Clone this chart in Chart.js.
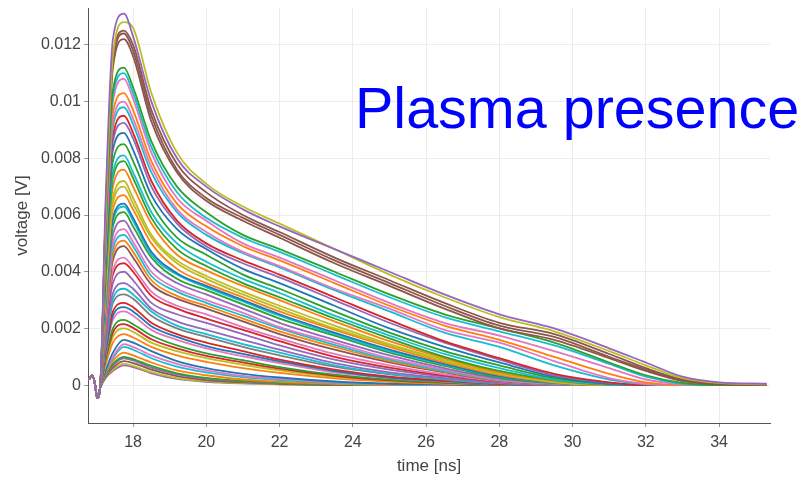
<!DOCTYPE html>
<html>
<head>
<meta charset="utf-8">
<title>Plasma presence</title>
<script src="https://cdn.jsdelivr.net/npm/chart.js@4.4.1/dist/chart.umd.min.js"></script>
<style>
  html, body { margin: 0; padding: 0; background: #fff; }
  #wrap { width: 807px; height: 479px; }
</style>
</head>
<body>
<div id="wrap"><canvas id="pulseChart" width="807" height="479"></canvas></div>
<script>
// sample times [ns]
const preTimes = [16.8, 16.88, 16.96, 17.02, 17.1];
const pulseTimes = [17.25, 17.45, 17.75, 18.0, 18.5, 19.2, 20, 21, 22, 23.5, 25, 26.5, 28, 29.5, 31, 32, 33, 34, 35.3];

// wiggle before the trigger, same for every shot (mV)
const preTrigger = [0.2, 0.35, 0.05, -0.45, -0.1];

// one row per shot, values in mV at pulseTimes
const pulseValues = [
  [6.5, 12.2, 13.1, 12.3, 10.0, 8.0, 7.0, 6.2, 5.6, 4.8, 4.0, 3.2, 2.5, 2.0, 1.3, 0.8, 0.3, 0.1, 0.05],
  [5.8, 11.6, 12.8, 12.6, 10.3, 8.2, 7.1, 6.3, 5.7, 4.8, 3.9, 3.1, 2.4, 1.9, 1.2, 0.7, 0.25, 0.08, 0.03],
  [6.0, 11.6, 12.5, 12.0, 9.7, 7.8, 6.8, 6.0, 5.4, 4.5, 3.7, 2.9, 2.2, 1.8, 1.1, 0.6, 0.2, 0.05, 0.02],
  [5.9, 11.4, 12.4, 11.8, 9.5, 7.6, 6.6, 5.9, 5.3, 4.4, 3.6, 2.8, 2.1, 1.7, 1.0, 0.55, 0.15, 0.05, 0],
  [5.8, 11.2, 12.2, 11.6, 9.3, 7.5, 6.5, 5.8, 5.2, 4.3, 3.5, 2.7, 2.0, 1.6, 0.95, 0.5, 0.15, 0.03, 0],
  [5.3, 10.4, 11.2, 10.5, 8.6, 7.0, 6.1, 5.3, 4.8, 4.0, 3.2, 2.5, 2.0, 1.5, 0.8, 0.35, 0.08, 0, 0.02],
  [5.2, 10.2, 11.0, 10.3, 8.4, 6.8, 5.9, 5.2, 4.7, 3.9, 3.1, 2.4, 1.9, 1.4, 0.75, 0.3, 0.05, 0, 0],
  [5.1, 10.0, 10.8, 10.1, 8.2, 6.6, 5.8, 5.0, 4.5, 3.7, 2.9, 2.2, 1.75, 1.2, 0.6, 0.2, 0.03, 0, 0],
  [4.9, 9.6, 10.3, 9.7, 7.9, 6.4, 5.6, 4.9, 4.4, 3.6, 2.8, 2.1, 1.6, 1.0, 0.4, 0.1, 0, 0, 0],
  [4.8, 9.3, 10.0, 9.4, 7.7, 6.2, 5.4, 4.7, 4.2, 3.4, 2.7, 1.95, 1.5, 0.85, 0.25, 0.05, 0, 0, 0],
  [4.7, 9.1, 9.8, 9.2, 7.5, 6.1, 5.3, 4.65, 4.15, 3.35, 2.6, 1.85, 1.35, 0.7, 0.2, 0.03, 0, 0, 0],
  [4.5, 8.8, 9.5, 8.9, 7.2, 5.8, 5.0, 4.4, 3.9, 3.1, 2.3, 1.55, 0.95, 0.4, 0.1, 0, 0, 0, 0],
  [4.4, 8.6, 9.25, 8.7, 7.0, 5.7, 4.9, 4.3, 3.8, 3.0, 2.2, 1.5, 0.9, 0.35, 0.08, 0, 0, 0, 0],
  [4.2, 8.3, 8.9, 8.3, 6.7, 5.5, 4.8, 4.1, 3.6, 2.8, 2.0, 1.35, 0.8, 0.3, 0.05, 0, 0, 0, 0],
  [4.0, 7.9, 8.5, 7.9, 6.4, 5.2, 4.6, 3.9, 3.4, 2.6, 1.85, 1.2, 0.7, 0.25, 0.05, 0, 0, 0, 0],
  [3.8, 7.5, 8.1, 7.5, 6.1, 5.0, 4.35, 3.75, 3.25, 2.45, 1.75, 1.1, 0.6, 0.2, 0.03, 0, 0, 0, 0],
  [3.7, 7.3, 7.9, 7.3, 5.9, 4.8, 4.2, 3.6, 3.1, 2.35, 1.65, 1.0, 0.5, 0.18, 0.02, 0, 0, 0, 0],
  [3.6, 7.0, 7.6, 7.0, 5.7, 4.6, 4.05, 3.5, 3.0, 2.25, 1.55, 0.95, 0.45, 0.15, 0, 0, 0, 0, 0],
  [3.4, 6.6, 7.2, 6.6, 5.3, 4.4, 3.85, 3.3, 2.8, 2.1, 1.45, 0.9, 0.42, 0.12, 0, 0, 0, 0, 0],
  [3.3, 6.4, 7.0, 6.4, 5.2, 4.3, 3.75, 3.2, 2.7, 2.0, 1.4, 0.85, 0.4, 0.1, 0, 0, 0, 0, 0],
  [3.1, 6.2, 6.7, 6.2, 5.0, 4.1, 3.6, 3.1, 2.6, 1.95, 1.35, 0.8, 0.36, 0.12, 0.02, 0, 0, 0, 0],
  [3.0, 5.9, 6.4, 5.9, 4.7, 3.95, 3.5, 3.0, 2.5, 1.85, 1.25, 0.75, 0.32, 0.1, 0, 0, 0, 0, 0],
  [2.9, 5.8, 6.3, 5.8, 4.6, 3.9, 3.45, 2.95, 2.45, 1.8, 1.2, 0.72, 0.3, 0.1, 0, 0, 0, 0, 0],
  [2.85, 5.6, 6.1, 5.6, 4.5, 3.75, 3.35, 2.85, 2.35, 1.75, 1.15, 0.68, 0.27, 0.08, 0, 0, 0, 0, 0],
  [2.7, 5.3, 5.8, 5.3, 4.25, 3.6, 3.2, 2.7, 2.2, 1.6, 1.05, 0.6, 0.24, 0.07, 0, 0, 0, 0, 0],
  [2.5, 5.0, 5.5, 5.05, 4.0, 3.4, 3.0, 2.55, 2.05, 1.5, 0.95, 0.55, 0.2, 0.06, 0, 0, 0, 0, 0],
  [2.4, 4.8, 5.3, 4.9, 3.85, 3.3, 2.9, 2.45, 2.0, 1.42, 0.9, 0.5, 0.18, 0.05, 0, 0, 0, 0, 0],
  [2.3, 4.6, 5.1, 4.7, 3.7, 3.15, 2.8, 2.35, 1.9, 1.35, 0.85, 0.48, 0.17, 0.05, 0, 0, 0, 0, 0],
  [2.2, 4.4, 4.9, 4.5, 3.55, 3.05, 2.7, 2.25, 1.8, 1.25, 0.8, 0.45, 0.15, 0.04, 0, 0, 0, 0, 0],
  [2.0, 4.05, 4.5, 4.15, 3.3, 2.8, 2.5, 2.05, 1.65, 1.1, 0.7, 0.38, 0.13, 0.03, 0, 0, 0, 0, 0],
  [1.9, 3.9, 4.3, 4.0, 3.15, 2.7, 2.35, 1.95, 1.55, 1.0, 0.62, 0.34, 0.12, 0.03, 0, 0, 0, 0, 0],
  [1.8, 3.6, 4.0, 3.7, 2.9, 2.5, 2.2, 1.8, 1.4, 0.9, 0.55, 0.3, 0.1, 0.03, 0, 0, 0, 0, 0],
  [1.55, 3.25, 3.6, 3.4, 2.7, 2.25, 1.95, 1.6, 1.25, 0.78, 0.45, 0.25, 0.08, 0.02, 0, 0, 0, 0, 0],
  [1.4, 3.05, 3.4, 3.2, 2.6, 2.1, 1.8, 1.45, 1.15, 0.7, 0.4, 0.22, 0.07, 0.02, 0, 0, 0, 0, 0],
  [1.4, 2.9, 3.2, 3.05, 2.45, 2.0, 1.7, 1.35, 1.05, 0.65, 0.38, 0.2, 0.06, 0, 0, 0, 0, 0, 0],
  [1.25, 2.6, 2.9, 2.75, 2.2, 1.8, 1.5, 1.2, 0.9, 0.55, 0.3, 0.16, 0.05, 0, 0, 0, 0, 0, 0],
  [1.15, 2.45, 2.75, 2.6, 2.08, 1.7, 1.38, 1.1, 0.84, 0.5, 0.27, 0.14, 0.04, 0, 0, 0, 0, 0, 0],
  [1.1, 2.3, 2.6, 2.45, 1.95, 1.6, 1.3, 1.02, 0.78, 0.45, 0.25, 0.13, 0.04, 0, 0, 0, 0, 0, 0],
  [0.95, 2.0, 2.3, 2.15, 1.75, 1.4, 1.12, 0.88, 0.64, 0.37, 0.2, 0.1, 0.03, 0, 0, 0, 0, 0, 0],
  [0.88, 1.85, 2.15, 2.02, 1.62, 1.3, 1.03, 0.8, 0.58, 0.33, 0.17, 0.08, 0.02, 0, 0, 0, 0, 0, 0],
  [0.8, 1.7, 2.0, 1.88, 1.5, 1.2, 0.95, 0.72, 0.52, 0.29, 0.15, 0.07, 0.02, 0, 0, 0, 0, 0, 0],
  [0.7, 1.5, 1.8, 1.68, 1.35, 1.05, 0.82, 0.6, 0.43, 0.24, 0.12, 0.05, 0.02, 0, 0, 0, 0, 0, 0],
  [0.5, 1.15, 1.6, 1.5, 1.2, 0.85, 0.6, 0.4, 0.27, 0.13, 0.05, 0.02, 0, 0, 0, 0, 0, 0, 0],
  [0.45, 1.0, 1.45, 1.35, 1.05, 0.75, 0.52, 0.33, 0.22, 0.1, 0.04, 0, 0, 0, 0, 0, 0, 0, 0],
  [0.45, 0.95, 1.35, 1.25, 0.95, 0.65, 0.45, 0.28, 0.18, 0.08, 0.03, 0, 0, 0, 0, 0, 0, 0, 0],
  [0.4, 0.85, 1.15, 1.05, 0.8, 0.52, 0.35, 0.2, 0.12, 0.05, 0, 0, 0, 0, 0, 0, 0, 0, 0],
  [0.35, 0.75, 1.0, 0.92, 0.68, 0.42, 0.26, 0.15, 0.08, 0.03, 0, 0, 0, 0, 0, 0, 0, 0, 0],
  [0.33, 0.7, 0.95, 0.87, 0.62, 0.38, 0.23, 0.13, 0.07, 0.02, 0, 0, 0, 0, 0, 0, 0, 0, 0],
  [0.3, 0.62, 0.85, 0.78, 0.55, 0.32, 0.18, 0.1, 0.05, 0, 0, 0, 0, 0, 0, 0, 0, 0, 0],
  [0.27, 0.55, 0.75, 0.68, 0.46, 0.25, 0.14, 0.07, 0.03, 0, 0, 0, 0, 0, 0, 0, 0, 0, 0],
  [0.25, 0.5, 0.7, 0.64, 0.42, 0.22, 0.12, 0.06, 0.03, 0, 0, 0, 0, 0, 0, 0, 0, 0, 0]
];

const xTicks = [18, 20, 22, 24, 26, 28, 30, 32, 34];
const yTicks = [0, 0.002, 0.004, 0.006, 0.008, 0.01, 0.012];

// plotly-like colours, one per row above
const lineColors = [
  "#9467bd", "#bcbd22", "#8c564b", "#8c564b", "#8c564b", "#2ca02c", "#17becf", "#e377c2", "#ff7f0e", "#e377c2",
  "#17becf", "#d62728", "#9467bd", "#1f77b4", "#2ca02c", "#17becf", "#2ca02c", "#ff7f0e", "#bcbd22", "#bcbd22",
  "#ff7f0e", "#1f77b4", "#17becf", "#2ca02c", "#9467bd", "#e377c2", "#17becf", "#ff7f0e", "#8c564b", "#e377c2",
  "#d62728", "#9467bd", "#9467bd", "#17becf", "#7f7f7f", "#d62728", "#1f77b4", "#e377c2", "#2ca02c", "#d62728",
  "#bcbd22", "#ff7f0e", "#1f77b4", "#e377c2", "#17becf", "#ff7f0e", "#2ca02c", "#9467bd", "#8c564b", "#bcbd22",
  "#9467bd"
];

const FONT = '"Liberation Sans", Arial, sans-serif';

const datasets = pulseValues.map((row, k) => {
  const pts = preTimes.map((t, i) => ({ x: t, y: preTrigger[i] / 1000 }));
  pulseTimes.forEach((t, i) => pts.push({ x: t, y: row[i] / 1000 }));
  return {
    label: "shot " + (k + 1),
    data: pts,
    borderColor: lineColors[k],
    borderWidth: 1.8,
    pointRadius: 0,
    fill: false,
    cubicInterpolationMode: "monotone"
  };
});

// big blue overlay text
const overlayText = {
  id: "overlayText",
  afterDraw(chart) {
    const ctx = chart.ctx;
    ctx.save();
    ctx.font = "57.5px " + FONT;
    ctx.fillStyle = "#0000ff";
    ctx.textBaseline = "alphabetic";
    ctx.fillText("Plasma presence", 355, 128);
    ctx.restore();
  }
};

new Chart(document.getElementById("pulseChart"), {
  type: "line",
  data: { datasets },
  options: {
    responsive: false,
    animation: false,
    layout: { padding: { left: 0, right: 37, top: 8, bottom: 0 } },
    plugins: {
      legend: { display: false },
      tooltip: { enabled: false }
    },
    scales: {
      x: {
        type: "linear",
        min: 16.77,
        max: 35.39,
        afterBuildTicks: s => { s.ticks = xTicks.map(v => ({ value: v })); },
        afterFit: s => { s.height = 56; s.paddingLeft = 0; s.paddingRight = 0; },
        ticks: { color: "#444", font: { family: FONT, size: 16 }, padding: 6, maxRotation: 0 },
        grid: { color: "#ececec", tickColor: "#999", tickLength: 4 },
        border: { color: "#555" },
        title: { display: true, text: "time [ns]", color: "#444", font: { family: FONT, size: 17 }, padding: { top: 0, bottom: 2 } }
      },
      y: {
        min: -0.001334,
        max: 0.0133,
        afterBuildTicks: s => { s.ticks = yTicks.map(v => ({ value: v })); },
        afterFit: s => { s.width = 88; s.paddingTop = 0; s.paddingBottom = 0; },
        ticks: { color: "#444", font: { family: FONT, size: 16 }, padding: 3, callback: v => String(v) },
        grid: { color: "#ececec", tickColor: "#999", tickLength: 4 },
        border: { color: "#555" },
        title: { display: true, text: "voltage [V]", color: "#444", font: { family: FONT, size: 17 }, padding: { top: 12, bottom: 0 } }
      }
    }
  },
  plugins: [overlayText]
});
</script>
</body>
</html>
